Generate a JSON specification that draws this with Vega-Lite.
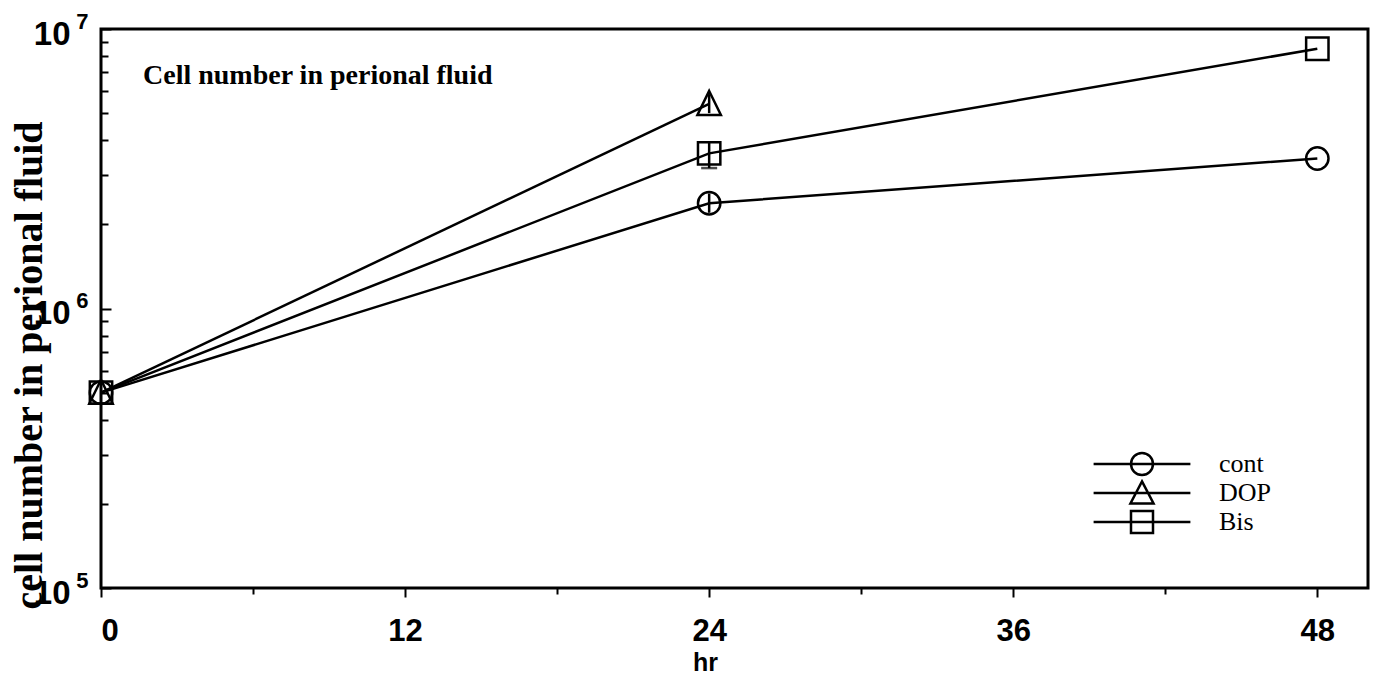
{
  "$schema": "https://vega.github.io/schema/vega-lite/v6.json",
  "width": 1267,
  "height": 559,
  "autosize": {"type": "none"},
  "padding": {"left": 101, "top": 29, "right": 7, "bottom": 88},
  "background": "white",
  "config": {
    "view": {"stroke": "black", "strokeWidth": 3},
    "font": "Liberation Sans",
    "axis": {"domain": false, "grid": false, "tickColor": "black", "tickWidth": 2, "labelColor": "black", "titleColor": "black"}
  },
  "title": {
    "text": "Cell number in perional fluid",
    "anchor": "start",
    "frame": "group",
    "font": "Liberation Serif",
    "fontSize": 28,
    "fontWeight": "bold",
    "color": "black",
    "offset": 0,
    "baseline": "alphabetic",
    "dx": 42,
    "dy": 102
  },
  "data": {
    "values": [
      {"series": "cont", "hr": 0, "cells": 500000},
      {"series": "DOP", "hr": 0, "cells": 500000},
      {"series": "Bis", "hr": 0, "cells": 500000},
      {"series": "cont", "hr": 24, "cells": 2380000, "low": 2200000, "high": 2580000},
      {"series": "DOP", "hr": 24, "cells": 5400000, "low": 5000000, "high": 5850000},
      {"series": "Bis", "hr": 24, "cells": 3590000, "low": 3180000, "high": 3950000},
      {"series": "cont", "hr": 48, "cells": 3440000},
      {"series": "Bis", "hr": 48, "cells": 8500000}
    ]
  },
  "layer": [
    {
      "mark": {"type": "line", "color": "black", "strokeWidth": 2.5},
      "encoding": {
        "x": {
          "field": "hr", "type": "quantitative",
          "scale": {"domain": [0, 50], "nice": false, "zero": false},
          "axis": {
            "orient": "bottom", "values": [0, 12, 24, 36, 48], "tickSize": 9,
            "labelPadding": 19, "labelFontSize": 31, "labelFontWeight": "bold",
            "title": "hr", "titleFontSize": 25, "titleFontWeight": "bold",
            "titleX": 604, "titleY": 82, "titleBaseline": "alphabetic", "titleAlign": "center"
          }
        },
        "y": {
          "field": "cells", "type": "quantitative",
          "scale": {"type": "log", "domain": [100000, 10000000], "nice": false},
          "axis": {
            "orient": "left", "values": [100000, 1000000, 10000000],
            "offset": -10, "tickSize": 10, "labelPadding": 31,
            "labelExpr": "'10'", "labelFontSize": 33, "labelFontWeight": "bold",
            "labelBaseline": "middle", "labelOffset": 5,
            "title": "cell number in perional fluid", "titleFont": "Liberation Serif",
            "titleFontSize": 40, "titleFontWeight": "bold", "titleAngle": -90,
            "titleX": -70, "titleY": 336, "titleBaseline": "alphabetic", "titleAlign": "center"
          }
        },
        "detail": {"field": "series"}
      }
    },
    {
      "mark": {"type": "point", "filled": false, "color": "black", "strokeWidth": 2.5, "size": 500, "opacity": 1},
      "encoding": {
        "x": {"field": "hr", "type": "quantitative", "scale": {"domain": [0, 50], "nice": false, "zero": false}, "axis": null},
        "y": {
          "field": "cells", "type": "quantitative",
          "scale": {"type": "log", "domain": [100000, 10000000], "nice": false},
          "axis": {
            "orient": "left", "values": [100000, 1000000, 10000000],
            "ticks": false, "tickSize": 0, "labelPadding": 13,
            "labelExpr": "datum.value < 500000 ? '5' : datum.value < 5000000 ? '6' : '7'",
            "labelFontSize": 22, "labelFontWeight": "bold", "labelBaseline": "middle", "labelOffset": -8,
            "title": null
          }
        },
        "shape": {
          "field": "series", "type": "nominal",
          "scale": {"domain": ["cont", "DOP", "Bis"], "range": ["circle", "M0,-1.15L1.05,1L-1.05,1Z", "square"]},
          "legend": null
        }
      }
    },
    {
      "mark": {"type": "point", "filled": false, "color": "black", "strokeWidth": 2.5, "size": 484, "opacity": 0},
      "encoding": {
        "x": {"field": "hr", "type": "quantitative", "scale": {"domain": [0, 50], "nice": false, "zero": false}, "axis": null},
        "y": {"field": "cells", "type": "quantitative", "scale": {"type": "log", "domain": [100000, 10000000], "nice": false}, "axis": null},
        "shape": {
          "field": "series", "type": "nominal",
          "scale": {
            "domain": ["cont", "DOP", "Bis"],
            "range": [
              "M-4.4,0H4.4M1,0A1,1,0,1,1,-1,0A1,1,0,1,1,1,0Z",
              "M-4.4,0H4.4M0,-1.05L1.05,0.95L-1.05,0.95Z",
              "M-4.4,0H4.4M-1,-1H1V1H-1Z"
            ]
          },
          "legend": {
            "title": null, "orient": "none", "legendX": 1028, "legendY": 422,
            "padding": 0, "symbolSize": 484, "symbolStrokeWidth": 2.5, "symbolStrokeColor": "black",
            "symbolFillColor": "transparent", "symbolOpacity": 1,
            "labelFont": "Liberation Serif", "labelFontSize": 26, "labelColor": "black",
            "labelOffset": 64, "rowPadding": -9
          }
        }
      }
    },
    {
      "transform": [{"filter": "isValid(datum.low)"}],
      "mark": {"type": "rule", "color": "black", "strokeWidth": 2.5},
      "encoding": {
        "x": {
          "field": "hr", "type": "quantitative",
          "scale": {"domain": [0, 50], "nice": false, "zero": false},
          "axis": {"orient": "bottom", "values": [6, 18, 30, 42], "tickSize": 6, "labels": false, "title": null}
        },
        "y": {
          "field": "low", "type": "quantitative",
          "scale": {"type": "log", "domain": [100000, 10000000], "nice": false},
          "axis": {
            "orient": "left",
            "values": [200000, 300000, 400000, 500000, 600000, 700000, 800000, 900000, 2000000, 3000000, 4000000, 5000000, 6000000, 7000000, 8000000, 9000000],
            "offset": -7, "tickSize": 7, "labels": false, "title": null
          }
        },
        "y2": {"field": "high"}
      }
    },
    {
      "transform": [{"filter": "datum.series == 'Bis' && isValid(datum.low)"}],
      "mark": {"type": "tick", "orient": "horizontal", "color": "black", "thickness": 2.5, "size": 16},
      "encoding": {
        "x": {"field": "hr", "type": "quantitative", "scale": {"domain": [0, 50], "nice": false, "zero": false}, "axis": null},
        "y": {"field": "low", "type": "quantitative", "scale": {"type": "log", "domain": [100000, 10000000], "nice": false}, "axis": null}
      }
    }
  ],
  "resolve": {"scale": {"shape": "independent"}, "axis": {"x": "independent", "y": "independent"}}
}
